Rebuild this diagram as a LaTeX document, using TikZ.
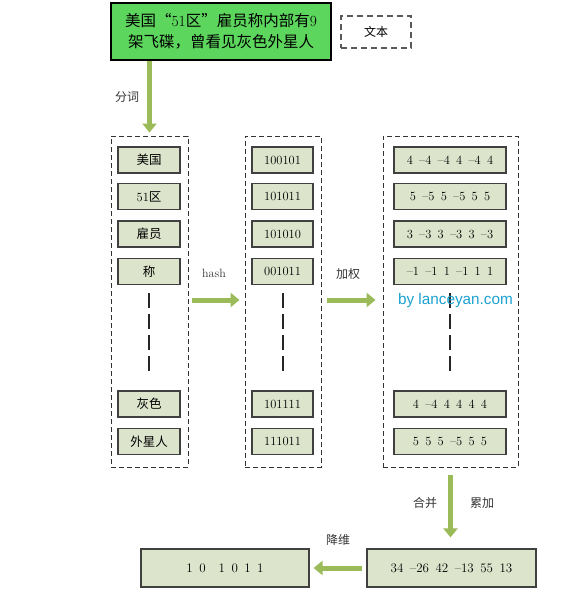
\documentclass[tikz,border=0pt]{standalone}
\usepackage{fontspec}
\newfontfamily\cjk{Noto Sans CJK SC}
\newfontfamily\wmfont{Liberation Sans}
\usetikzlibrary{arrows.meta}
\definecolor{topgreen}{RGB}{92,214,92}
\definecolor{arrowgreen}{RGB}{155,187,89}
\definecolor{cellfill}{RGB}{221,228,204}
\definecolor{cellline}{RGB}{64,64,64}
\definecolor{wmblue}{RGB}{27,161,208}
\newcommand\gp{\hspace{0.5em}}
\newcommand\mn{\textendash}
\tikzset{
  cell/.style={draw=cellline, line width=1.2pt, fill=cellfill, minimum height=26pt, inner sep=0pt, font=\fontsize{12.5}{14}\selectfont},
  lcell/.style={cell, minimum width=62pt},
  mcell/.style={cell, minimum width=61pt},
  rcell/.style={cell, minimum width=112pt},
  bcell/.style={cell, minimum width=168pt, minimum height=38pt},
  container/.style={draw=black!80, line width=0.9pt, dash pattern=on 5pt off 3pt, minimum height=331pt, inner sep=0pt},
  bigarrow/.style={draw=arrowgreen, line width=5pt, -{Triangle[length=9pt,width=14pt]}},
  vdots/.style={draw=black!85, line width=2pt, dash pattern=on 15pt off 6pt},
  lbl/.style={font=\fontsize{12}{14}\selectfont\cjk, text=black!80, inner sep=0pt},
}
\begin{document}
\begin{tikzpicture}[x=1pt,y=-1pt]
\useasboundingbox (0,0) rectangle (583,606);

% top text box
\node[draw=black, line width=1.3pt, fill=topgreen, minimum width=220pt, minimum height=57pt, inner sep=0pt,
      align=center, font=\fontsize{15.5}{21}\selectfont] (top) at (221,31.5)
  {{\cjk 美国\makebox[1em]{“}}51{\cjk 区\makebox[1em]{”}雇员称内部有}9\\{\cjk 架飞碟，曾看见灰色外星人}};
\node[draw=black!65, line width=1.3pt, dash pattern=on 6pt off 4pt, minimum width=70pt, minimum height=32pt,
      inner sep=0pt, font=\fontsize{12}{14}\selectfont\cjk] (legend) at (376,32) {文本};

% containers
\node[container, minimum width=77pt] (lc) at (149.5,301.5) {};
\node[container, minimum width=76pt] (mc) at (283,301.5) {};
\node[container, minimum width=135pt] (rc) at (450.5,301.5) {};

% left column
\node[lcell] (l1) at (149,160) {\cjk 美国};
\node[lcell] (l2) at (149,196.5) {51{\cjk 区}};
\node[lcell] (l3) at (149,234) {\cjk 雇员};
\node[lcell] (l4) at (149,271.5) {\cjk 称};
\node[lcell] (l5) at (149,404) {\cjk 灰色};
\node[lcell] (l6) at (149,441.5) {\cjk 外星人};

% middle column
\node[mcell] (m1) at (282.5,160) {100101};
\node[mcell] (m2) at (282.5,196.5) {101011};
\node[mcell] (m3) at (282.5,234) {101010};
\node[mcell] (m4) at (282.5,271.5) {001011};
\node[mcell] (m5) at (282.5,404) {101111};
\node[mcell] (m6) at (282.5,441.5) {111011};

% right column
\node[rcell] (r1) at (450,160) {4\gp\mn4\gp\mn4\gp4\gp\mn4\gp4};
\node[rcell] (r2) at (450,196.5) {5\gp\mn5\gp5\gp\mn5\gp5\gp5};
\node[rcell] (r3) at (450,234) {3\gp\mn3\gp3\gp\mn3\gp3\gp\mn3};
\node[rcell] (r4) at (450,271.5) {\mn1\gp\mn1\gp1\gp\mn1\gp1\gp1};
\node[rcell] (r5) at (450,404) {4\gp\mn4\gp4\gp4\gp4\gp4};
\node[rcell] (r6) at (450,441.5) {5\gp5\gp5\gp\mn5\gp5\gp5};

% vertical dashes (ellipsis)
\path (l4.south) ++(0,8) coordinate (la) (l5.north) ++(0,-14) coordinate (lb);
\draw[vdots] (la) -- (lb);
\path (m4.south) ++(0,8) coordinate (ma) (m5.north) ++(0,-14) coordinate (mb);
\draw[vdots] (ma) -- (mb);
\path (r4.south) ++(0,8) coordinate (ra) (r5.north) ++(0,-14) coordinate (rb);
\draw[vdots] (ra) -- (rb);

% watermark
\node[font=\fontsize{15.3}{17}\selectfont\wmfont, text=wmblue, inner sep=0pt] (wm) at (455.5,301) {by lanceyan.com};

% bottom boxes
\node[bcell, minimum width=169pt, font=\fontsize{13}{15}\selectfont] (br) at (451.5,568)
  {34\gp\mn26\gp42\gp\mn13\gp55\gp13};
\node[bcell, font=\fontsize{13}{15}\selectfont] (bl) at (225,568)
  {1\gp0\gp\gp1\gp0\gp1\gp1};

% arrows
\coordinate (tA) at (top.south -| lc.north);
\draw[bigarrow, shorten >=3pt] (tA) -- (lc.north);
\node[lbl] (fenci) at (127,97) {分词};

\draw[bigarrow, shorten <=4pt, shorten >=5pt] (lc.east |- 0,300) coordinate (hA) -- (mc.west |- hA);
\node[lbl, font=\fontsize{12}{14}\selectfont] (hash) at (214,273) {hash};

\draw[bigarrow, shorten <=6pt, shorten >=7pt] (mc.east |- 0,300) coordinate (wA) -- (rc.west |- wA);
\node[lbl] (jiaquan) at (348,274) {加权};

\draw[bigarrow, shorten <=8pt, shorten >=11pt] (rc.south) -- (br.north -| rc.south);
\node[lbl] (hebing) at (425,503) {合并};
\node[lbl] (leijia) at (482,503) {累加};

\draw[bigarrow, shorten <=4pt, shorten >=4pt] (br.west) -- (bl.east);
\node[lbl] (jiangwei) at (338,540) {降维};
\end{tikzpicture}
\end{document}
